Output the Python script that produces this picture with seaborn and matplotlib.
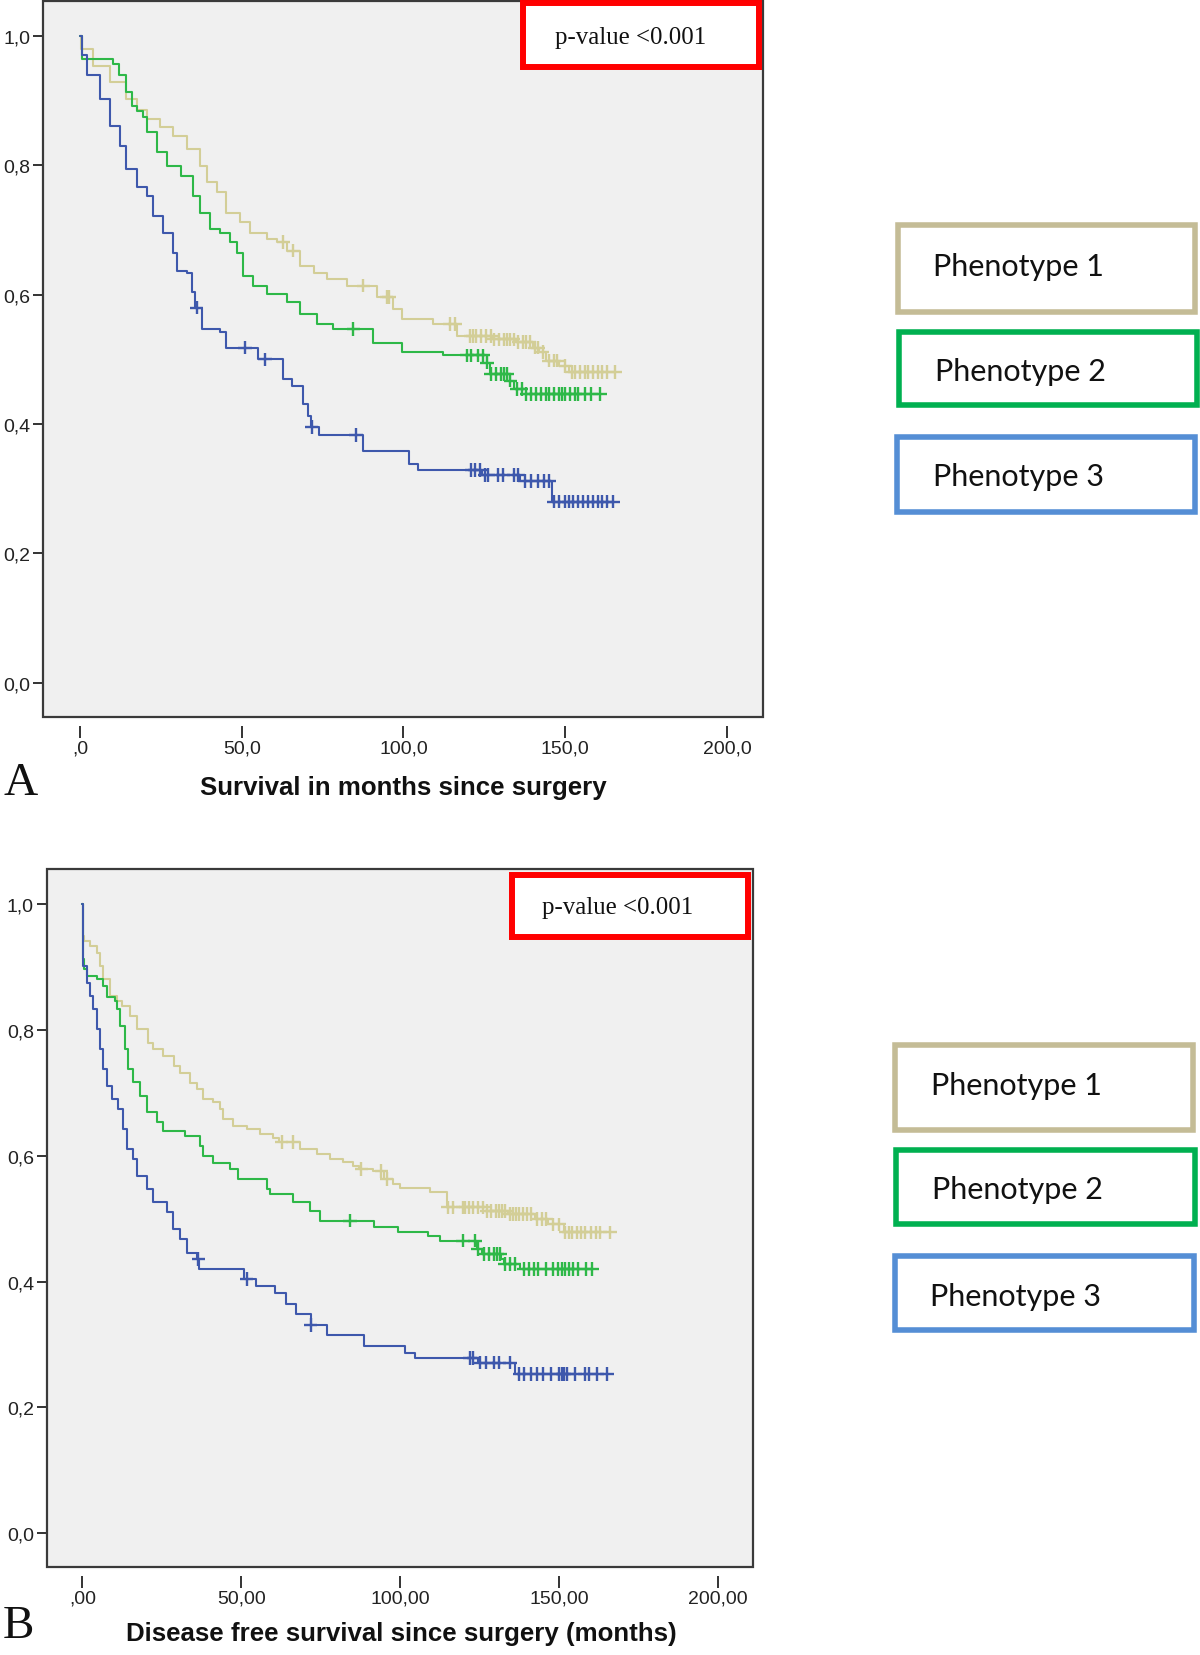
import numpy as np
import pandas as pd
import matplotlib
matplotlib.use("Agg")
import matplotlib.pyplot as plt
import seaborn as sns
from matplotlib.patches import Rectangle

# ---------------- data ----------------
groups = ["Phenotype 1", "Phenotype 2", "Phenotype 3"]

# Panel A : overall survival (months)
a_p1_t = [0, 0.3, 4.1, 9.3, 14.4, 17.5, 20.6, 24.7, 28.8, 33.0, 37.1, 39.2, 42.3, 45.3, 49.5, 52.5, 57.7, 60.8, 64.0, 68.0, 72.2, 76.3, 82.4, 91.7, 96.8, 99.4, 109.2, 116.4, 127.5, 134.7, 139.9, 141.9, 144.0, 148.1, 151.2]
a_p1_s = [1.0, 0.98, 0.954, 0.928, 0.903, 0.886, 0.872, 0.859, 0.846, 0.825, 0.799, 0.774, 0.758, 0.727, 0.712, 0.696, 0.686, 0.681, 0.668, 0.645, 0.634, 0.624, 0.614, 0.596, 0.578, 0.562, 0.555, 0.536, 0.531, 0.527, 0.518, 0.511, 0.498, 0.490, 0.480]
a_p1_cens = [62.9, 66.0, 87.6, 94.8, 95.6, 114.3, 116.0, 120.7, 121.5, 122.5, 124.0, 125.5, 127.0, 128.0, 129.5, 131.0, 132.0, 133.0, 134.0, 135.5, 137.0, 138.0, 139.0, 140.5, 141.5, 143.0, 145.0, 146.5, 147.5, 150.0, 152.0, 153.0, 154.5, 156.0, 157.0, 158.5, 160.0, 161.5, 163.0, 165.5]

a_p2_t = [0, 0.5, 10.3, 12.0, 14.4, 16.0, 17.5, 19.6, 20.6, 23.7, 26.8, 31.4, 35.0, 37.1, 40.2, 43.3, 46.4, 48.4, 50.5, 53.6, 57.7, 63.9, 68.0, 73.2, 78.3, 90.7, 99.4, 112.3, 125.8, 126.8, 133.0, 134.0, 138.0]
a_p2_s = [1.0, 0.965, 0.957, 0.939, 0.913, 0.892, 0.884, 0.874, 0.851, 0.820, 0.799, 0.784, 0.753, 0.727, 0.701, 0.696, 0.681, 0.665, 0.629, 0.614, 0.601, 0.588, 0.570, 0.555, 0.547, 0.526, 0.512, 0.506, 0.495, 0.477, 0.467, 0.454, 0.446]
a_p2_cens = [84.5, 119.6, 121.0, 123.0, 124.5, 125.8, 127.0, 128.5, 130.0, 131.0, 132.0, 133.0, 135.0, 136.5, 138.0, 139.5, 141.0, 142.5, 144.0, 145.0, 146.5, 148.0, 149.0, 150.0, 151.5, 153.0, 154.0, 156.0, 158.0, 160.7]

a_p3_t = [0, 0.5, 2.1, 6.2, 9.3, 12.4, 14.4, 17.5, 20.6, 22.7, 25.8, 28.8, 29.9, 33.0, 34.5, 35.5, 37.6, 43.3, 45.3, 55.1, 62.8, 65.7, 69.0, 70.5, 71.3, 74.0, 87.6, 101.8, 104.6, 124.2, 136.0, 145.8]
a_p3_s = [1.0, 0.970, 0.939, 0.903, 0.861, 0.830, 0.794, 0.766, 0.753, 0.722, 0.696, 0.665, 0.637, 0.634, 0.604, 0.580, 0.547, 0.542, 0.518, 0.500, 0.469, 0.458, 0.431, 0.413, 0.395, 0.383, 0.358, 0.338, 0.329, 0.321, 0.312, 0.280]
a_p3_cens = [36.1, 51.0, 57.2, 71.6, 85.3, 121.0, 122.0, 123.6, 125.2, 126.2, 129.3, 130.8, 134.0, 135.5, 137.5, 139.5, 141.5, 143.5, 145.0, 146.5, 148.0, 150.0, 151.0, 152.5, 154.0, 155.5, 157.0, 158.5, 160.0, 161.5, 163.0, 164.9]

# Panel B : disease free survival (months)
b_p1_t = [0, 0.2, 0.5, 2.4, 4.5, 5.5, 6.6, 8.7, 10.8, 12.3, 15.0, 17.1, 20.7, 22.3, 25.5, 28.7, 30.7, 33.9, 36.0, 38.1, 41.2, 43.3, 44.3, 47.5, 51.7, 55.9, 60.1, 62.0, 68.5, 73.7, 77.9, 82.0, 85.2, 87.0, 91.5, 95.0, 97.8, 99.9, 109.4, 114.6, 127.3, 134.0, 142.4, 146.6, 151.4]
b_p1_s = [1.0, 0.950, 0.942, 0.934, 0.923, 0.902, 0.881, 0.854, 0.846, 0.838, 0.822, 0.801, 0.780, 0.769, 0.759, 0.743, 0.732, 0.716, 0.706, 0.690, 0.685, 0.674, 0.658, 0.648, 0.642, 0.634, 0.629, 0.622, 0.610, 0.603, 0.595, 0.590, 0.584, 0.579, 0.576, 0.563, 0.555, 0.548, 0.542, 0.518, 0.512, 0.507, 0.499, 0.491, 0.478]
b_p1_cens = [62.7, 66.3, 87.8, 94.1, 95.7, 115.0, 116.6, 119.6, 120.5, 121.5, 123.0, 124.5, 126.0, 127.3, 128.7, 130.0, 131.0, 132.0, 133.0, 134.5, 135.5, 136.5, 137.5, 138.5, 140.0, 141.0, 143.0, 144.5, 146.0, 148.0, 150.0, 152.0, 153.0, 154.0, 155.5, 157.0, 158.0, 160.0, 161.5, 163.0, 166.0]

b_p2_t = [0, 0.3, 0.6, 1.3, 4.5, 6.6, 7.6, 10.3, 10.8, 11.8, 13.4, 14.4, 16.0, 18.1, 20.2, 23.4, 25.5, 32.3, 37.0, 38.0, 41.2, 46.4, 49.1, 58.0, 59.0, 66.4, 71.6, 74.8, 91.6, 99.4, 108.8, 112.5, 124.0, 125.6, 131.6, 132.7, 137.7]
b_p2_s = [1.0, 0.913, 0.897, 0.886, 0.881, 0.870, 0.852, 0.846, 0.833, 0.807, 0.769, 0.738, 0.717, 0.695, 0.669, 0.653, 0.640, 0.632, 0.616, 0.600, 0.589, 0.579, 0.563, 0.547, 0.539, 0.526, 0.512, 0.497, 0.486, 0.479, 0.473, 0.465, 0.452, 0.444, 0.436, 0.428, 0.420]
b_p2_cens = [84.2, 119.8, 123.5, 124.5, 126.5, 128.0, 129.5, 130.5, 131.5, 133.0, 134.5, 136.0, 139.0, 140.5, 142.0, 143.5, 146.0, 148.0, 149.5, 151.0, 152.0, 153.0, 154.5, 156.0, 158.5, 160.3]

b_p3_t = [0, 0.3, 1.3, 2.4, 3.4, 4.5, 5.5, 6.6, 7.6, 9.2, 11.3, 12.9, 13.9, 16.0, 17.1, 20.4, 22.3, 26.5, 28.6, 30.7, 32.8, 36.0, 36.8, 51.0, 54.5, 60.5, 64.0, 67.2, 71.8, 77.1, 88.7, 101.5, 104.7, 124.6, 136.1]
b_p3_s = [1.0, 0.902, 0.875, 0.854, 0.833, 0.801, 0.769, 0.738, 0.711, 0.690, 0.674, 0.642, 0.610, 0.595, 0.568, 0.547, 0.526, 0.510, 0.483, 0.467, 0.446, 0.436, 0.420, 0.404, 0.393, 0.382, 0.365, 0.348, 0.331, 0.315, 0.298, 0.287, 0.278, 0.271, 0.253]
b_p3_cens = [36.5, 51.7, 71.8, 122.0, 123.0, 125.0, 127.0, 129.5, 131.0, 134.5, 137.5, 139.0, 141.0, 143.0, 145.0, 147.5, 150.0, 151.0, 151.5, 152.5, 155.0, 158.0, 159.5, 162.0, 165.0]

y_ticks = [0.0, 0.2, 0.4, 0.6, 0.8, 1.0]
y_ticklabels = ["0,0", "0,2", "0,4", "0,6", "0,8", "1,0"]
x_ticks = [0, 50, 100, 150, 200]
a_xticklabels = [",0", "50,0", "100,0", "150,0", "200,0"]
b_xticklabels = [",00", "50,00", "100,00", "150,00", "200,00"]
a_xlabel = "Survival in months since surgery"
b_xlabel = "Disease free survival since surgery (months)"
panel_letters = ["A", "B"]
p_text = "p-value <0.001"

line_colors = {"Phenotype 1": "#D3CE97", "Phenotype 2": "#2EB848", "Phenotype 3": "#3E58AC"}
box_colors = {"Phenotype 1": "#C4BC96", "Phenotype 2": "#00B050", "Phenotype 3": "#558ED5"}

# ---------------- figure ----------------
sns.set_theme(style="white")
plt.rcParams["font.family"] = ["Liberation Sans", "DejaVu Sans"]

W, H = 1200, 1656
fig = plt.figure(figsize=(W / 100, H / 100), dpi=100)


def frac_rect(x0, y0, x1, y1):
    return [x0 / W, 1 - y1 / H, (x1 - x0) / W, (y1 - y0) / H]


def build_frames(curves):
    rows, cens_rows = [], []
    for g, (t, s, c) in zip(groups, curves):
        t = list(t)
        s = list(s)
        t_ext = t + [max(c)]
        s_ext = s + [s[-1]]
        for ti, si in zip(t_ext, s_ext):
            rows.append({"t": ti, "S": si, "group": g})
        tarr = np.array(t)
        for ci in c:
            idx = np.searchsorted(tarr, ci, side="right") - 1
            cens_rows.append({"t": ci, "S": s[idx], "group": g})
    return pd.DataFrame(rows), pd.DataFrame(cens_rows)


def draw_panel(ax, curves, xlim, ylim, xticklabels):
    df, cdf = build_frames(curves)
    ax.set_facecolor("#F0F0F0")
    sns.lineplot(data=df, x="t", y="S", hue="group", palette=line_colors,
                 drawstyle="steps-post", estimator=None, sort=False,
                 legend=False, linewidth=1.5, ax=ax)
    sns.scatterplot(data=cdf, x="t", y="S", hue="group", palette=line_colors,
                    marker="+", s=95, linewidth=1.7, legend=False, ax=ax, zorder=4)
    ax.set_xlim(*xlim)
    ax.set_ylim(*ylim)
    ax.set_xticks(x_ticks)
    ax.set_xticklabels(xticklabels)
    ax.set_yticks(y_ticks)
    ax.set_yticklabels(y_ticklabels)
    ax.set_xlabel("")
    ax.set_ylabel("")
    for sp in ax.spines.values():
        sp.set_visible(False)
    ax.spines["bottom"].set_position(("outward", 6.5))
    ax.tick_params(axis="y", which="both", left=True, direction="out", length=7.5,
                   width=1.4, color="#333333", labelsize=14, pad=1.5, labelcolor="#222222")
    ax.tick_params(axis="x", which="both", bottom=True, direction="out", length=8.5,
                   width=1.4, color="#333333", labelsize=14, pad=1.5, labelcolor="#222222")
    ax.add_patch(Rectangle((0, 0), 1, 1, transform=ax.transAxes, fill=False,
                           ec="#3a3a3a", lw=1.6, clip_on=False, zorder=6))


curves_a = [(a_p1_t, a_p1_s, a_p1_cens), (a_p2_t, a_p2_s, a_p2_cens), (a_p3_t, a_p3_s, a_p3_cens)]
curves_b = [(b_p1_t, b_p1_s, b_p1_cens), (b_p2_t, b_p2_s, b_p2_cens), (b_p3_t, b_p3_s, b_p3_cens)]

axA = fig.add_axes(frac_rect(43, 2, 763, 718))
draw_panel(axA, curves_a, (-11.4, 211.1), (-0.053, 1.054), a_xticklabels)

axB = fig.add_axes(frac_rect(46.5, 870, 753, 1568))
draw_panel(axB, curves_b, (-11.3, 211.0), (-0.054, 1.056), b_xticklabels)

# x labels and panel letters
fig.text(403 / W, 1 - 788 / H, a_xlabel, ha="center", va="center",
         fontsize=18.6, fontweight="bold", color="#111111")
fig.text(401 / W, 1 - 1634 / H, b_xlabel, ha="center", va="center",
         fontsize=18.6, fontweight="bold", color="#111111")
fig.text(3 / W, 1 - 784 / H, panel_letters[0], ha="left", va="center",
         fontsize=34, family=["Liberation Serif"], color="#111111")
fig.text(3 / W, 1 - 1627 / H, panel_letters[1], ha="left", va="center",
         fontsize=34, family=["Liberation Serif"], color="#111111")

# p-value boxes
for (x0, y0, x1, y1, cx, cy) in [(523, 4, 759, 68, 631, 38), (512, 876, 748, 938, 618, 908)]:
    fig.add_artist(Rectangle((x0 / W, 1 - y1 / H), (x1 - x0) / W, (y1 - y0) / H,
                             transform=fig.transFigure, facecolor="white",
                             edgecolor="#FF0000", lw=4.3, zorder=10))
    fig.text(cx / W, 1 - cy / H, p_text, ha="center", va="center", fontsize=17.9,
             family=["Liberation Serif"], color="#111111", zorder=11)

# legend boxes
legend_boxes = [
    [(898, 226, 1195, 313, 933, 267), (899, 333, 1197, 406, 935, 372), (897, 438, 1195, 513, 933, 477)],
    [(895, 1046, 1193, 1131, 931, 1086), (896, 1151, 1195, 1225, 932, 1190), (895, 1257, 1194, 1331, 930, 1297)],
]
for panel in legend_boxes:
    for g, (x0, y0, x1, y1, tx, ty) in zip(groups, panel):
        fig.add_artist(Rectangle((x0 / W, 1 - y1 / H), (x1 - x0) / W, (y1 - y0) / H,
                                 transform=fig.transFigure, facecolor="white",
                                 edgecolor=box_colors[g], lw=4.0, zorder=10))
        fig.text(tx / W, 1 - ty / H, g, ha="left", va="center", fontsize=22,
                 family=["Lato", "DejaVu Sans"], color="#111111", zorder=11)

fig.savefig("out.png", dpi=100, facecolor="white")
